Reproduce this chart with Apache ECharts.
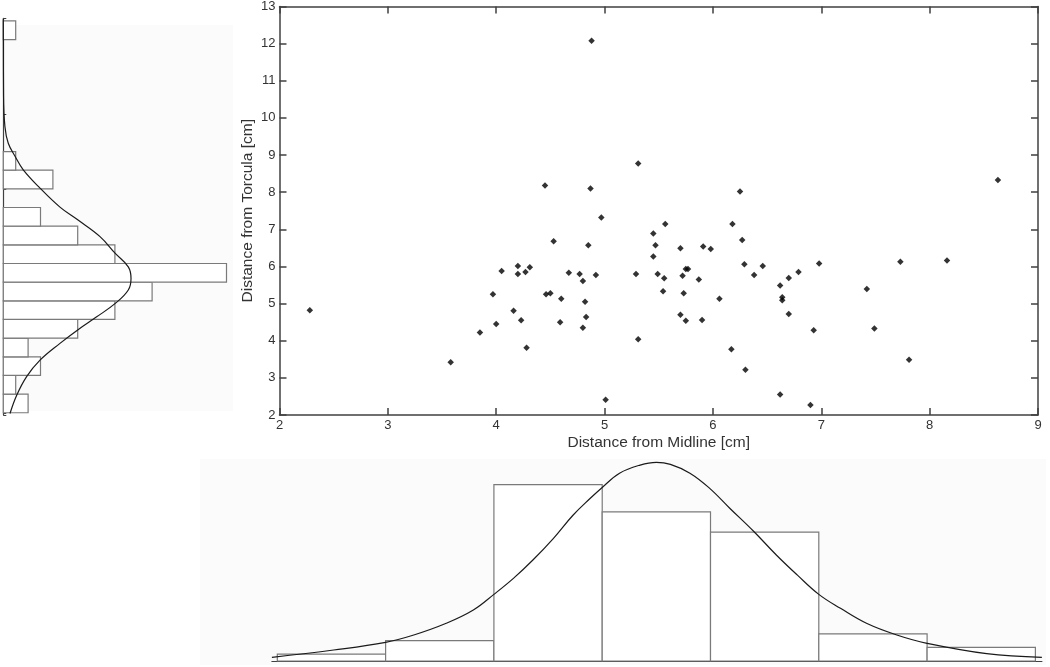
<!DOCTYPE html>
<html>
<head>
<meta charset="utf-8">
<title>Distance from Midline vs Distance from Torcula</title>
<script src="https://cdn.jsdelivr.net/npm/echarts@6/dist/echarts.min.js"></script>
<style>
  html, body { margin: 0; padding: 0; background: #fff; }
  #chart { width: 1050px; height: 667px; }
</style>
</head>
<body>
<div id="chart"></div>
<script>
// scatter points (paired)
const midlineCm = [
  2.28, 3.58, 3.85, 3.97, 4.00, 4.05, 4.16, 4.20, 4.20, 4.23,
  4.27, 4.28, 4.31, 4.45, 4.46, 4.50, 4.53, 4.59, 4.60, 4.67,
  4.77, 4.80, 4.80, 4.82, 4.83, 4.85, 4.87, 4.88, 4.92, 4.97,
  5.01, 5.29, 5.31, 5.31, 5.45, 5.45, 5.47, 5.49, 5.54, 5.55,
  5.56, 5.70, 5.70, 5.72, 5.73, 5.75, 5.77, 5.75, 5.87, 5.90,
  5.91, 5.98, 6.06, 6.17, 6.18, 6.25, 6.27, 6.29, 6.30, 6.38,
  6.46, 6.62, 6.62, 6.64, 6.64, 6.70, 6.70, 6.79, 6.90, 6.93,
  6.98, 7.42, 7.49, 7.73, 7.81, 8.16, 8.63
]
const torculaCm = [
  4.82, 3.42, 4.22, 5.25, 4.45, 5.88, 4.81, 6.01, 5.80, 4.55,
  5.85, 3.81, 5.98, 8.18, 5.25, 5.28, 6.68, 4.50, 5.13, 5.83,
  5.80, 5.61, 4.35, 5.05, 4.64, 6.57, 8.10, 12.08, 5.77, 7.32,
  2.41, 5.80, 8.77, 4.04, 6.89, 6.27, 6.57, 5.80, 5.33, 5.68,
  7.14, 6.49, 4.70, 5.75, 5.28, 5.93, 5.93, 4.54, 5.65, 4.56,
  6.54, 6.47, 5.13, 3.77, 7.14, 8.02, 6.71, 6.06, 3.22, 5.77,
  6.01, 5.49, 2.55, 5.17, 5.09, 5.69, 4.72, 5.85, 2.27, 4.28,
  6.08, 5.39, 4.33, 6.13, 3.49, 6.16, 8.33
]

// bottom histogram (Midline)
const midlineEdges = [2, 3, 4, 5, 6, 7, 8, 9]
const midlineCounts = [1, 3, 26, 22, 19, 4, 2]
const midlineFitX = [1.95, 2.52, 3.0, 3.26, 3.56, 3.81, 4.0, 4.18, 4.36, 4.55, 4.73, 4.89, 5.0, 5.16, 5.35, 5.5,
  5.63, 5.81, 5.99, 6.18, 6.40, 6.61, 6.80, 7.0, 7.20, 7.44, 7.72, 8.0, 8.55, 9.06]
const midlineFitCount = [0.54, 1.62, 2.75, 3.83, 5.56, 7.52, 9.83, 12.19, 14.9, 18.1, 21.5, 24.0, 25.6, 27.7, 28.9, 29.3,
  29.0, 27.7, 25.5, 22.5, 19.1, 15.6, 12.7, 9.83, 7.77, 5.56, 3.83, 2.6, 1.08, 0.54]

// left histogram (Torcula), bins from the bottom up
const torculaEdges = [2, 2.5, 3, 3.5, 4, 4.5, 5, 5.5, 6, 6.5, 7, 7.5, 8, 8.5, 9, 9.5, 10, 10.5, 11, 11.5, 12, 12.5]
const torculaCounts = [2, 1, 3, 2, 6, 9, 12, 18, 9, 6, 3, 0, 4, 1, 0, 0, 0, 0, 0, 0, 1]
const torculaFitY = [1.98, 2.47, 2.97, 3.41, 3.86, 4.22, 4.57, 4.93, 5.29, 5.60, 5.91, 6.27, 6.72, 7.17, 7.51, 8.02, 8.51, 8.86, 9.22, 9.67, 10.5, 12.55]
const torculaFitCount = [0.54, 1.08, 1.88, 2.96, 4.57, 6.0, 7.53, 9.03, 10.08, 10.30, 10.08, 9.03, 7.8, 6.0, 4.57, 2.96, 1.61, 0.97, 0.4, 0.13, 0.02, 0]

const font = 'Liberation Sans, Arial, sans-serif'
const axisColor = '#404040'
const barEdge = '#7a7a7a'

const scatterData = midlineCm.map((x, i) => [x, torculaCm[i]])
const midlineBins = midlineCounts.map((c, i) => [midlineEdges[i], midlineEdges[i + 1], c])
const torculaBins = torculaCounts.map((c, i) => [torculaEdges[i], torculaEdges[i + 1], c])
const midlineFit = midlineFitX.map((x, i) => [x, midlineFitCount[i]])
const torculaFit = torculaFitY.map((y, i) => [torculaFitCount[i], y])

const chart = echarts.init(document.getElementById('chart'))

const option = {
  backgroundColor: '#fff',
  animation: false,
  textStyle: { fontFamily: font },
  graphic: [
    { type: 'rect', z: -10, shape: { x: 3, y: 25, width: 230, height: 386 }, style: { fill: '#fbfbfb' } },
    { type: 'rect', z: -10, shape: { x: 200, y: 459, width: 846, height: 206 }, style: { fill: '#fbfbfb' } }
  ],
  grid: [
    // scatter
    { left: 279.5, top: 6, width: 758.5, height: 409 },
    // left histogram
    { left: 3.3, top: 18.3, width: 229.4, height: 396.7 },
    // bottom histogram
    { left: 271.9, top: 457.6, width: 770, height: 203.4 }
  ],
  xAxis: [
    {
      gridIndex: 0, type: 'value', min: 2, max: 9, interval: 1,
      name: 'Distance from Midline [cm]', nameLocation: 'middle', nameGap: 20, nameMoveOverlap: false,
      nameTextStyle: { fontSize: 15.5, color: '#333', fontFamily: font },
      axisLine: { lineStyle: { color: axisColor, width: 1.5 } },
      axisTick: { inside: true, length: 7, lineStyle: { color: axisColor, width: 1.5 } },
      axisLabel: { color: '#333', fontSize: 13, margin: 4, fontFamily: font },
      splitLine: { show: false }
    },
    {
      gridIndex: 0, type: 'value', position: 'top', min: 2, max: 9, interval: 1,
      axisLine: { lineStyle: { color: axisColor, width: 1.5 } },
      axisTick: { inside: true, length: 7, lineStyle: { color: axisColor, width: 1.5 } },
      axisLabel: { show: false },
      splitLine: { show: false }
    },
    {
      gridIndex: 1, type: 'value', min: 0, max: 18.5,
      axisLine: { show: false }, axisTick: { show: false }, axisLabel: { show: false },
      splitLine: { show: false }
    },
    {
      gridIndex: 2, type: 'value', min: 1.95, max: 9.06,
      axisLine: { lineStyle: { color: axisColor, width: 1.2 } },
      axisTick: { show: false }, axisLabel: { show: false },
      splitLine: { show: false }
    }
  ],
  yAxis: [
    {
      gridIndex: 0, type: 'value', min: 2, max: 13, interval: 1,
      name: 'Distance from Torcula [cm]', nameLocation: 'middle', nameGap: 23.5, nameMoveOverlap: false,
      nameTextStyle: { fontSize: 15.5, color: '#333', fontFamily: font },
      axisLine: { lineStyle: { color: axisColor, width: 1.5 } },
      axisTick: { inside: true, length: 7, lineStyle: { color: axisColor, width: 1.5 } },
      axisLabel: { color: '#333', fontSize: 13, margin: 4, fontFamily: font },
      splitLine: { show: false }
    },
    {
      gridIndex: 0, type: 'value', position: 'right', min: 2, max: 13, interval: 1,
      axisLine: { lineStyle: { color: axisColor, width: 1.5 } },
      axisTick: { inside: true, length: 7, lineStyle: { color: axisColor, width: 1.5 } },
      axisLabel: { show: false },
      splitLine: { show: false }
    },
    {
      gridIndex: 1, type: 'value', min: 1.94, max: 12.57,
      axisLine: { lineStyle: { color: axisColor, width: 1.2 } },
      axisTick: { inside: true, length: 3, lineStyle: { color: axisColor } },
      axisLabel: { show: false },
      splitLine: { show: false }
    },
    {
      gridIndex: 2, type: 'value', min: 0, max: 30,
      axisLine: { show: false }, axisTick: { show: false }, axisLabel: { show: false },
      splitLine: { show: false }
    }
  ],
  series: [
    {
      name: 'points', type: 'scatter', xAxisIndex: 0, yAxisIndex: 0,
      symbol: 'diamond', symbolSize: 6.5,
      itemStyle: { color: '#000' },
      data: scatterData
    },
    {
      name: 'torcula hist', type: 'custom', xAxisIndex: 2, yAxisIndex: 2,
      renderItem: (params, api) => {
        const count = api.value(2)
        if (!count) return null
        const a = api.coord([0, api.value(1)])
        const b = api.coord([count, api.value(0)])
        return {
          type: 'rect',
          shape: { x: a[0], y: a[1], width: b[0] - a[0], height: b[1] - a[1] },
          style: { fill: '#fff', stroke: barEdge, lineWidth: 1.2 }
        }
      },
      encode: { x: 2, y: [0, 1] },
      data: torculaBins
    },
    {
      name: 'torcula fit', type: 'line', xAxisIndex: 2, yAxisIndex: 2,
      smooth: 0.4, showSymbol: false, clip: false,
      lineStyle: { color: '#1a1a1a', width: 1.2 },
      z: 5,
      data: torculaFit
    },
    {
      name: 'midline hist', type: 'custom', xAxisIndex: 3, yAxisIndex: 3,
      renderItem: (params, api) => {
        const count = api.value(2)
        if (!count) return null
        const a = api.coord([api.value(0), count])
        const b = api.coord([api.value(1), 0])
        return {
          type: 'rect',
          shape: { x: a[0], y: a[1], width: b[0] - a[0], height: b[1] - a[1] },
          style: { fill: '#fff', stroke: barEdge, lineWidth: 1.2 }
        }
      },
      encode: { x: [0, 1], y: 2 },
      data: midlineBins
    },
    {
      name: 'midline fit', type: 'line', xAxisIndex: 3, yAxisIndex: 3,
      smooth: 0.4, showSymbol: false, clip: false,
      lineStyle: { color: '#1a1a1a', width: 1.2 },
      z: 5,
      data: midlineFit
    }
  ]
}

chart.setOption(option)
</script>
</body>
</html>
